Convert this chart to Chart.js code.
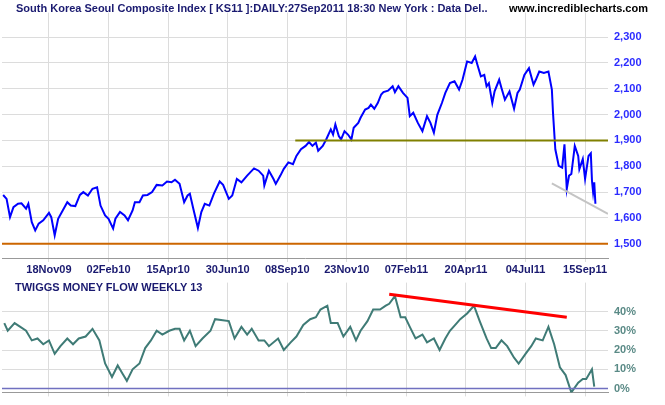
<!DOCTYPE html>
<html><head><meta charset="utf-8">
<script src="https://cdn.jsdelivr.net/npm/chart.js@4"></script>
<style>
body{margin:0;background:#fff;width:665px;height:405px;overflow:hidden;font-family:Arial,"Liberation Sans",sans-serif}
#c1{position:absolute;left:0;top:0}
#c2{position:absolute;left:0;top:270px}
.t{position:absolute;font-size:11px;font-weight:bold;white-space:nowrap}
</style></head><body>
<canvas id="c1" width="665" height="276" style="width:665px;height:276px"></canvas>
<canvas id="c2" width="665" height="135" style="width:665px;height:135px"></canvas>
<div class="t" style="left:16px;top:2px;color:#1a1a70">South Korea Seoul Composite Index [ KS11 ]:DAILY:27Sep2011 18:30 New York : Data Del..</div>
<div class="t" style="left:509px;top:2px;color:#000">www.incrediblecharts.com</div>
<div class="t" style="left:15px;top:281px;color:#1a1a70">TWIGGS MONEY FLOW WEEKLY 13</div>
<script>
const tickDays=[41,93,145,197,249,301,353,405,457,509];
const tickLabels=["18Nov09","02Feb10","15Apr10","30Jun10","08Sep10","23Nov10","07Feb11","20Apr11","04Jul11","15Sep11"];
const priceDays=[1,4,7,10,14,17,21,23,26,29,32,36,41,43,46,49,53,57,60,64,68,71,75,79,83,86,90,93,97,99,103,107,110,114,116,120,123,127,131,135,140,144,148,151,155,159,162,164,167,171,174,177,181,185,190,193,198,201,205,209,214,220,224,228,229,233,237,239,243,246,250,254,257,261,265,268,271,274,276,280,283,287,289,291,294,296,299,302,305,307,311,313,317,320,322,325,328,331,333,337,341,343,346,350,354,356,359,363,367,371,374,377,380,384,387,391,395,399,402,406,410,413,415,418,421,423,425,428,430,434,436,439,443,447,450,452,456,460,464,466,469,473,477,480,481,483,486,489,491,493,495,497,500,503,504,507,509,512,514,515,516,517,518];
const priceValues=[1689,1674,1603,1642,1655,1657,1636,1655,1584,1552,1578,1591,1620,1603,1533,1597,1629,1661,1648,1646,1689,1700,1687,1713,1719,1648,1610,1597,1559,1597,1623,1610,1591,1629,1661,1661,1687,1689,1700,1728,1726,1741,1738,1748,1732,1661,1687,1694,1636,1561,1623,1655,1648,1694,1741,1728,1674,1687,1751,1738,1764,1792,1783,1764,1726,1783,1751,1732,1764,1790,1815,1808,1840,1866,1879,1894,1879,1892,1860,1879,1904,1943,1923,1962,1917,1904,1936,1923,1904,1949,1968,1988,2020,2026,2039,2023,2045,2078,2087,2093,2110,2087,2110,2084,2065,1994,2007,1968,1936,1994,1968,1930,1999,2045,2084,2122,2129,2097,2135,2206,2200,2225,2193,2148,2154,2110,2122,2045,2090,2135,2103,2058,2090,2023,2084,2097,2154,2180,2116,2135,2167,2161,2167,2097,2007,1866,1802,1795,1885,1712,1764,1770,1879,1840,1789,1828,1751,1840,1850,1745,1700,1738,1655];
const supportLow=[{x:0,y:1500},{x:529,y:1500}];
const supportHigh=[{x:256,y:1900},{x:529,y:1900}];
const trendPrice=[{x:480,y:1734},{x:529,y:1616}];
const tmfDays=[2,5,11,16,21,26,31,36,41,46,51,57,62,67,73,79,85,90,96,101,105,109,114,120,125,130,135,140,146,151,155,159,164,169,175,182,186,198,203,209,214,218,224,229,233,241,246,252,257,263,269,274,278,284,287,293,298,304,309,313,319,324,330,335,338,343,348,352,356,361,367,371,377,382,387,391,397,400,406,412,417,423,427,431,436,441,447,451,457,462,466,472,477,482,487,492,497,503,507,510,515,517];
const tmfValues=[34,30,34,32,30,25,26,23,25,18,22,26,23,26,27,31,25,13,6,12,8,4,10,13,21,25,30,28,30,31,31,25,30,22,26,30,36,35,26,32,28,31,25,25,22,26,20,24,27,33,36,37,41,43,34,34,27,32,25,30,35,41,41,43,44,48,37,37,32,26,28,24,26,20,26,30,34,36,39,43,35,26,21,21,25,22,16,13,18,22,26,25,32,23,11,7,-2,3,5,5,10,1,5];
const tmfZero=[{x:0,y:0},{x:529,y:0}];
const tmfTrend=[{x:338,y:49},{x:493,y:37}];

const grid='#dcdcdc';
function xScale(showLabels){
  return {type:'linear',min:0,max:529,
    afterBuildTicks:s=>{s.ticks=tickDays.map(v=>({value:v}));},
    afterFit:s=>{s.height=showLabels?18:6;},
    grid:{color:grid,drawTicks:true,tickLength:4},border:{color:'#999'},
    ticks:{display:showLabels,autoSkip:false,maxRotation:0,color:'#1a1a70',font:{family:'Arial',size:11,weight:'bold'},padding:1,
      callback:v=>tickLabels[tickDays.indexOf(v)]}};
}
const ln=(data,color,w)=>({data,borderColor:color,borderWidth:w,pointRadius:0,tension:0,fill:false});
Chart.defaults.animation=false;
new Chart(document.getElementById('c1'),{type:'line',
  data:{datasets:[ln(supportLow,'#cc6600',2),ln(supportHigh,'#808000',2),ln(trendPrice,'#c4c4c4',2),
    ln(priceDays.map((d,i)=>({x:d,y:priceValues[i]})),'#0000ff',2)]},
  options:{responsive:false,layout:{padding:{top:2,left:2,right:0,bottom:0}},plugins:{legend:{display:false},tooltip:{enabled:false}},
    scales:{x:xScale(true),
      y:{position:'right',min:1445,max:2395,afterBuildTicks:s=>{s.ticks=[1500,1600,1700,1800,1900,2000,2100,2200,2300].map(v=>({value:v}));},
        afterFit:s=>{s.width=57;},grid:{color:grid,drawTicks:false},border:{display:false},
        ticks:{color:'#2b2bff',font:{family:'Arial',size:11,weight:'bold'},padding:6,callback:v=>v.toLocaleString('en-US')}}}}});
new Chart(document.getElementById('c2'),{type:'line',
  data:{datasets:[ln(tmfZero,'#7070c0',1.5),ln(tmfTrend,'#ff0000',3),
    ln(tmfDays.map((d,i)=>({x:d,y:tmfValues[i]})),'#3f7b76',2)]},
  options:{responsive:false,layout:{padding:{top:4,left:2,right:0,bottom:0}},plugins:{legend:{display:false},tooltip:{enabled:false}},
    scales:{x:xScale(false),
      y:{position:'right',min:-2,max:55,afterBuildTicks:s=>{s.ticks=[0,10,20,30,40].map(v=>({value:v}));},
        afterFit:s=>{s.width=57;},grid:{color:grid,drawTicks:false},border:{display:false},
        ticks:{color:'#5a8a86',font:{family:'Arial',size:11,weight:'bold'},padding:6,callback:v=>v+'%'}}}}});
</script></body></html>
